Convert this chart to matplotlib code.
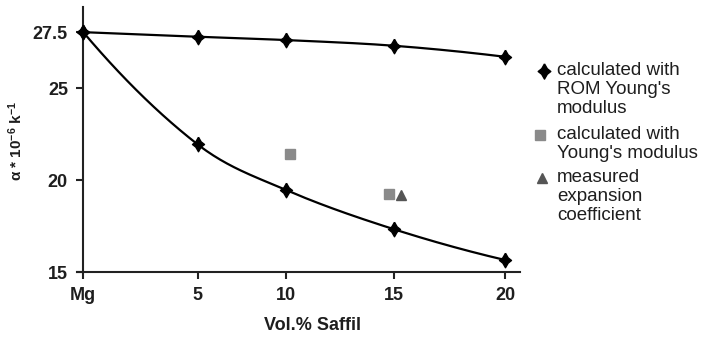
import numpy as np
import matplotlib
matplotlib.use('Agg')
import matplotlib.pyplot as plt
from matplotlib.path import Path
from matplotlib.lines import Line2D

# data (x = vol.% as placed on the axis, y in plotted units)
categories = ['Mg', '5', '10', '15', '20']
vol_pct = [0, 5.42, 9.61, 14.74, 20]
rom_upper = [28.04, 27.79, 27.61, 27.30, 26.70]
rom_lower = [28.04, 21.94, 19.46, 17.32, 15.65]
young_x = [9.80, 14.49]
young_y = [21.4, 19.22]
measured_x = [15.06]
measured_y = [19.2]
y_ticks = [15, 20, 25, 28.04]
y_tick_labels = ['15', '20', '25', '27.5']

plt.rcParams['font.family'] = ['Liberation Sans', 'DejaVu Sans']
plt.rcParams['mathtext.default'] = 'regular'
TXT = '#1e1e1e'


def smooth(x, y, n=40):
    """Cubic Hermite curve through the points; Catmull-Rom slopes inside,
    parabolic slopes at the two ends."""
    x = np.asarray(x, float)
    y = np.asarray(y, float)
    d = np.diff(y) / np.diff(x)
    m = np.empty_like(y)
    m[1:-1] = (y[2:] - y[:-2]) / (x[2:] - x[:-2])
    m[0] = 2 * d[0] - m[1]
    m[-1] = 2 * d[-1] - m[-2]
    xs, ys = [], []
    t = np.linspace(0, 1, n)
    for i in range(len(x) - 1):
        h = x[i + 1] - x[i]
        h00 = 2 * t ** 3 - 3 * t ** 2 + 1
        h10 = t ** 3 - 2 * t ** 2 + t
        h01 = -2 * t ** 3 + 3 * t ** 2
        h11 = t ** 3 - t ** 2
        xs.append(x[i] + h * t)
        ys.append(h00 * y[i] + h10 * h * m[i] + h01 * y[i + 1] + h11 * h * m[i + 1])
    return np.concatenate(xs), np.concatenate(ys)


# four-pointed star, a bit taller than wide
star = Path([(0, 1.15), (0.42, 0.42), (0.95, 0), (0.42, -0.42), (0, -1.15),
             (-0.42, -0.42), (-0.95, 0), (-0.42, 0.42), (0, 1.15)])

fig = plt.figure(figsize=(7.01, 3.40), dpi=100)
ax = fig.add_axes([0.1094, 0.2, 0.6324, 0.779])

for ys in (rom_upper, rom_lower):
    sx, sy = smooth(vol_pct, ys)
    ax.plot(sx, sy, color='black', lw=1.6, zorder=3, clip_on=False)
    ax.plot(vol_pct, ys, ls='none', marker=star, ms=10.5, color='black', zorder=4, clip_on=False)

ax.plot(young_x, young_y, ls='none', marker='s', ms=7, color='#8a8a8a', mec='#8a8a8a', zorder=4)
ax.plot(measured_x, measured_y, ls='none', marker='^', ms=7.5, color='#555555', zorder=4)

ax.set_xlim(-0.31, 20.7)
ax.set_ylim(15, 29.4)
ax.set_xticks(vol_pct)
ax.set_xticklabels(categories)
ax.set_yticks(y_ticks)
ax.set_yticklabels(y_tick_labels)

for s in ('top', 'right'):
    ax.spines[s].set_visible(False)
ax.spines['left'].set_position(('data', 0))
for s in ('left', 'bottom'):
    ax.spines[s].set_linewidth(1.5)
    ax.spines[s].set_color('#222222')
ax.tick_params(direction='out', length=5, width=1.5, color='#222222',
               labelsize=13, labelcolor=TXT, pad=6)
for lab in ax.get_xticklabels() + ax.get_yticklabels():
    lab.set_fontweight('bold')

ax.set_xlabel('Vol.% Saffil', fontsize=13, fontweight='bold', color=TXT)
ax.xaxis.set_label_coords(0.533, -0.17)
fig.text(0.023, 0.585, r'α * 10$^{-6}$ k$^{-1}$', rotation=90, fontsize=11,
         fontweight='bold', color=TXT, ha='center', va='center')

# legend drawn by hand to keep the tight layout of the original
# (marker, size, colour, label, marker x px, row y px)
legend_items = [
    (star, 11, 'black', 'calculated with\nROM Young\'s\nmodulus', 544, 71),
    ('s', 7, '#8a8a8a', 'calculated with\nYoung\'s modulus', 540, 135),
    ('^', 7.5, '#555555', 'measured\nexpansion\ncoefficient', 542, 178),
]
W, H = 701, 340
for mk, ms, col, label, xpix, ypix in legend_items:
    fig.add_artist(Line2D([xpix / W], [1 - ypix / H], marker=mk, ms=ms, color=col,
                          ls='none', transform=fig.transFigure))
    fig.text(557 / W, 1 - (ypix - 9) / H, label, fontsize=13.5, color=TXT,
             ha='left', va='top', linespacing=1.15)

fig.savefig('out.png', dpi=100)
